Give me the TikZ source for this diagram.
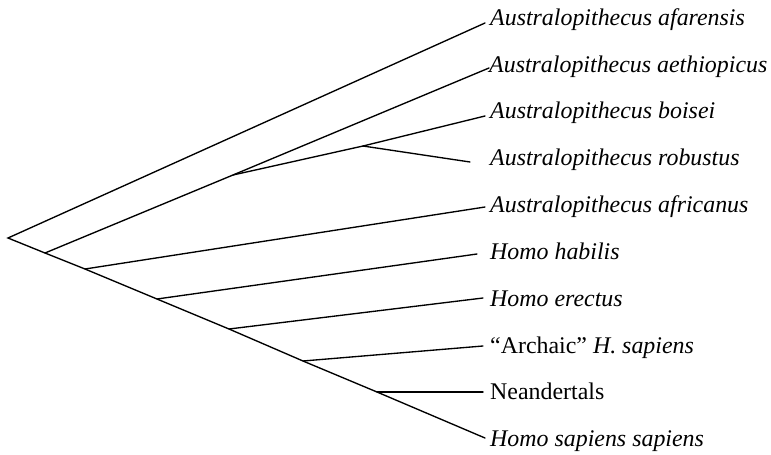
\documentclass[tikz,border=0pt]{standalone}
\usepackage{fontspec}
\setmainfont{Liberation Serif}
\begin{document}
\begin{tikzpicture}[x=1pt,y=-1pt,
  branch/.style={line width=1.35pt,line cap=round},
  taxon/.style={anchor=base west,inner sep=0pt,font=\fontsize{23.9}{26}\selectfont\itshape},
  taxonrm/.style={anchor=base west,inner sep=0pt,font=\fontsize{23.9}{26}\selectfont}]
\useasboundingbox (0,0) rectangle (771,455);
% internal nodes
\coordinate (root) at (8,238);
\coordinate (n2) at (45,253);
\coordinate (n3) at (85,269);
\coordinate (n4) at (157,299);
\coordinate (n5) at (229,329);
\coordinate (n6) at (303,361);
\coordinate (n7) at (377,392);
\coordinate (c1) at (233,175);
\coordinate (c2) at (363,146);
% tips
\coordinate (t1) at (485,23);
\coordinate (t2) at (489,68);
\coordinate (t3) at (485,116);
\coordinate (t4) at (470,162);
\coordinate (t5) at (485,207);
\coordinate (t6) at (477,254);
\coordinate (t7) at (483,298);
\coordinate (t8) at (483,346);
\coordinate (t9) at (483,392);
\coordinate (t10) at (485,438);
% labels
\node[taxon] (l1) at (490,25) {Australopithecus afarensis};
\node[taxon] (l2) at (489,72) {Australopithecus aethiopicus};
\node[taxon] (l3) at (490,118) {Australopithecus boisei};
\node[taxon] (l4) at (490,165) {Australopithecus robustus};
\node[taxon] (l5) at (490,212) {Australopithecus africanus};
\node[taxon] (l6) at (490,259) {Homo habilis};
\node[taxon] (l7) at (490,306) {Homo erectus};
\node[taxonrm] (l8) at (490,353) {``Archaic'' \textit{H. sapiens}};
\node[taxonrm] (l9) at (490,399) {Neandertals};
\node[taxon] (l10) at (490,446) {Homo sapiens sapiens};
% branches
\draw[branch] (t1) -- (root) -- (n2) -- (n3) -- (n4) -- (n5) -- (n6) -- (n7) -- (t10);
\draw[branch] (n2) -- (c1) -- (t2);
\draw[branch] (c1) -- (c2) -- (t3);
\draw[branch] (c2) -- (t4);
\draw[branch] (n3) -- (t5);
\draw[branch] (n4) -- (t6);
\draw[branch] (n5) -- (t7);
\draw[branch] (n6) -- (t8);
\draw[branch] (n7) -- (t9);
\end{tikzpicture}
\end{document}
